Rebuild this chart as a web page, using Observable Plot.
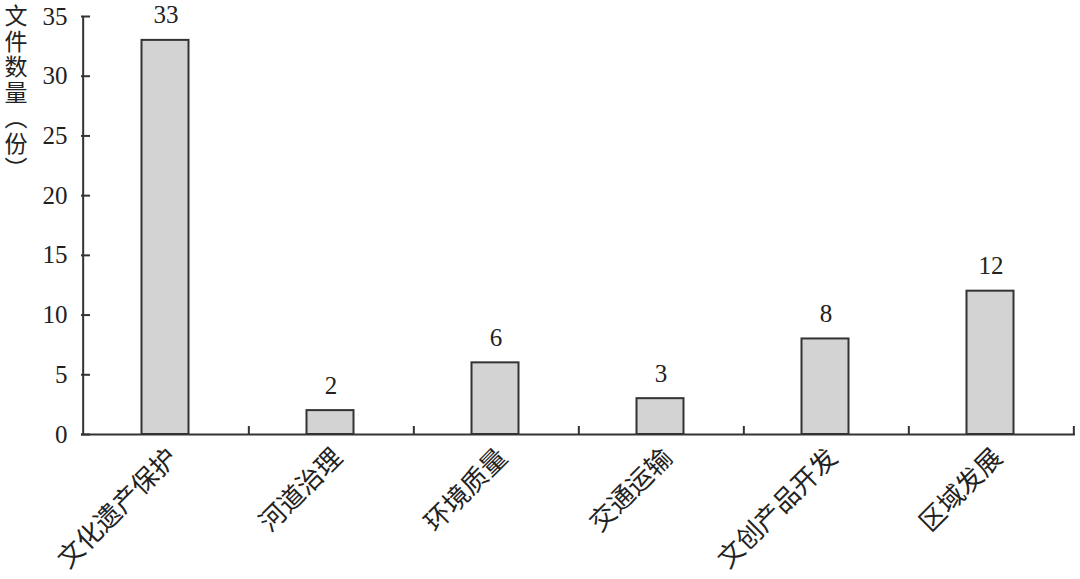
<!DOCTYPE html>
<html>
<head>
<meta charset="utf-8">
<script src="https://cdn.jsdelivr.net/npm/d3@7"></script>
<script src="https://cdn.jsdelivr.net/npm/@observablehq/plot@0.6"></script>
<style>
  body { margin: 0; background: #fff; }
  #wrap { position: relative; width: 1080px; height: 579px; }
  #ytitle {
    position: absolute; left: 4px; top: 4px;
    writing-mode: vertical-rl;
    font-family: "Noto Sans CJK SC", sans-serif;
    font-size: 23px; letter-spacing: 2.5px; color: #222; line-height: 1;
  }
</style>
</head>
<body>
<div id="wrap"><div id="ytitle">文件数量（份）</div></div>
<script>
const categories = ["文化遗产保护", "河道治理", "环境质量", "交通运输", "文创产品开发", "区域发展"];
const counts = [33, 2, 6, 3, 8, 12];
const yTicks = [0, 5, 10, 15, 20, 25, 30, 35];

const data = categories.map((c, i) => ({category: c, count: counts[i]}));

const W = 1080, H = 579;
const mL = 81, mR = 5, mT = 16, mB = 145;
const bw = (W - mL - mR) / categories.length;
const ph = H - mT - mB;
const axisColor = "#333";

const chart = Plot.plot({
  width: W, height: H,
  marginLeft: mL, marginRight: mR, marginTop: mT, marginBottom: mB,
  style: {fontFamily: "'Liberation Serif', serif", fontSize: "25px", color: "#222", background: "transparent"},
  x: {domain: categories, padding: 0, label: null},
  y: {domain: [0, 35], label: null},
  marks: [
    Plot.barY(data, {x: "category", y: "count", fill: "#d3d3d3", stroke: axisColor, strokeWidth: 2, insetLeft: 58.5, insetRight: 59.5}),
    Plot.text(data, {x: "category", y: "count", text: d => String(d.count), dy: -25, fontSize: 25, fill: "#222"}),
    Plot.axisY({ticks: yTicks, tickSize: 0, tickPadding: 14, fontSize: 25, fill: "#222"}),
    Plot.ruleY(yTicks, {y: d => d, stroke: axisColor, strokeWidth: 2, insetRight: W - mL - mR - 9}),
    Plot.axisX({tickSize: 0, tickRotate: -45, tickPadding: 19, dx: 7, fontSize: 26, fontFamily: "'Noto Sans CJK SC', sans-serif", fill: "#222"}),
    Plot.ruleX(categories, {x: d => d, dx: bw / 2, stroke: axisColor, strokeWidth: 2, insetTop: ph - 8}),
    Plot.ruleX([categories[0]], {x: d => d, dx: -bw / 2, stroke: axisColor, strokeWidth: 2}),
    Plot.ruleY([0], {stroke: axisColor, strokeWidth: 2})
  ]
});
document.getElementById("wrap").appendChild(chart);
chart.style.position = "absolute";
chart.style.left = "0";
chart.style.top = "0";
</script>
</body>
</html>
